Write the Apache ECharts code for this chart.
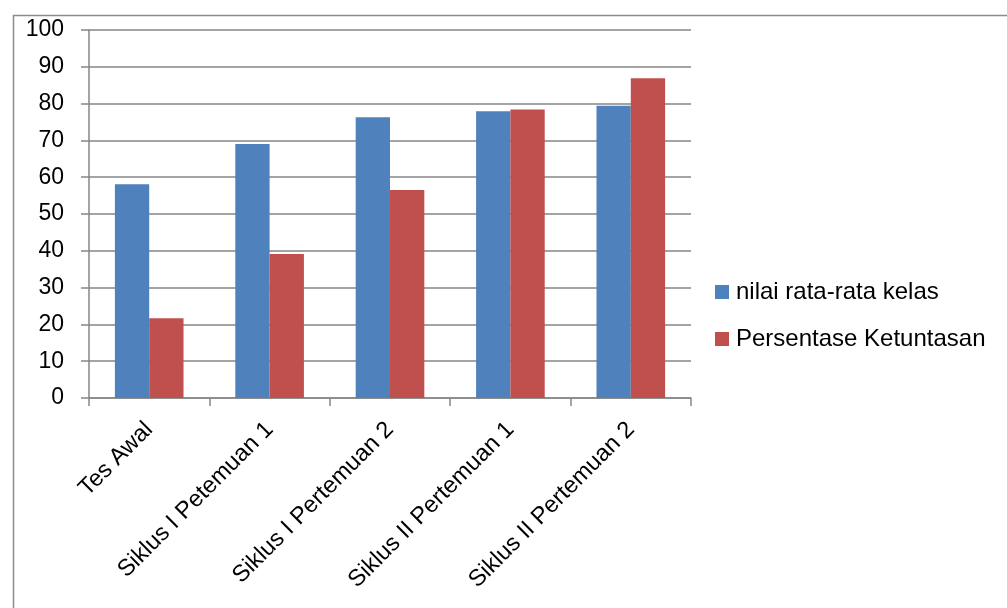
<!DOCTYPE html>
<html>
<head>
<meta charset="utf-8">
<script src="https://cdn.jsdelivr.net/npm/echarts@6/dist/echarts.min.js"></script>
<style>html,body{margin:0;padding:0;background:#fff}#c{width:1007px;height:608px}</style>
</head>
<body>
<div id="c"></div>
<script>
var categories = ['Tes Awal', 'Siklus I Petemuan 1', 'Siklus I Pertemuan 2', 'Siklus II Pertemuan 1', 'Siklus II Pertemuan 2'];
var seriesNames = ['nilai rata-rata kelas', 'Persentase Ketuntasan'];
var nilaiRataRata = [58.1, 69.0, 76.3, 77.9, 79.4];
var persentaseKetuntasan = [21.7, 39.1, 56.5, 78.4, 86.9];
var yTicks = [0, 10, 20, 30, 40, 50, 60, 70, 80, 90, 100];

var FONT = 'Liberation Sans';
var chart = echarts.init(document.getElementById('c'));
chart.setOption({
  animation: false,
  textStyle: { fontFamily: FONT },
  graphic: [{
    type: 'rect', left: 11, top: 13, silent: true, z: -1,
    shape: { x: 0, y: 0, width: 1100, height: 700 },
    style: { fill: 'none', stroke: '#8c8c8c', lineWidth: 1.5 }
  }],
  grid: { left: 89, right: 316, top: 30, bottom: 210 },
  legend: {
    orient: 'vertical', left: 715, top: 280, padding: 0,
    itemWidth: 14, itemHeight: 14, itemGap: 23,
    icon: 'rect',
    textStyle: { fontSize: 24, lineHeight: 24, color: '#000', fontFamily: FONT, padding: [0, 0, 0, 2] },
    data: seriesNames
  },
  xAxis: {
    type: 'category', data: categories,
    axisLine: { lineStyle: { color: '#868686', width: 1.5 } },
    axisTick: { show: true, length: 8, alignWithLabel: false, lineStyle: { color: '#868686', width: 1.5 } },
    axisLabel: { rotate: 45, fontSize: 23.5, color: '#000', margin: 28, interval: 0 }
  },
  yAxis: {
    type: 'value', min: 0, max: 100, interval: 10,
    axisLine: { show: true, lineStyle: { color: '#868686', width: 1.5 } },
    axisTick: { show: true, length: 8, lineStyle: { color: '#868686', width: 1.5 } },
    axisLabel: { fontSize: 23, color: '#000', margin: 25,
      formatter: function (v) { return yTicks.indexOf(v) >= 0 ? String(v) : ''; } },
    splitLine: { lineStyle: { color: '#868686', width: 1.5 } }
  },
  series: [
    { name: seriesNames[0], type: 'bar', data: nilaiRataRata, barGap: '0%', barCategoryGap: '43%',
      itemStyle: { color: '#4F81BD' } },
    { name: seriesNames[1], type: 'bar', data: persentaseKetuntasan, barGap: '0%', barCategoryGap: '43%',
      itemStyle: { color: '#C0504D' } }
  ]
});
</script>
</body>
</html>
